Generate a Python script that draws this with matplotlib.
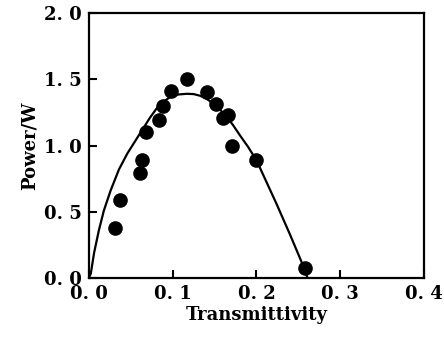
import matplotlib
matplotlib.use("Agg")
import matplotlib.pyplot as plt

# measured points
trans = [0.031, 0.037, 0.061, 0.064, 0.068, 0.084, 0.088, 0.098, 0.117,
         0.141, 0.152, 0.160, 0.166, 0.171, 0.199, 0.258]
power = [0.38, 0.59, 0.79, 0.89, 1.10, 1.19, 1.30, 1.41, 1.50,
         1.40, 1.31, 1.21, 1.23, 1.00, 0.89, 0.08]

# fitted curve
fit_t = [0.0, 0.0024, 0.0063, 0.012, 0.018, 0.026, 0.036, 0.046, 0.056,
         0.065, 0.073, 0.081, 0.089, 0.097, 0.107, 0.117, 0.125, 0.133,
         0.141, 0.148, 0.156, 0.164, 0.172, 0.180, 0.190, 0.200, 0.208,
         0.216, 0.224, 0.232, 0.240, 0.248, 0.254, 0.258, 0.261]
fit_p = [0.0, 0.035, 0.19, 0.36, 0.51, 0.66, 0.82, 0.94, 1.04,
         1.13, 1.21, 1.28, 1.33, 1.365, 1.385, 1.39, 1.388, 1.375,
         1.35, 1.32, 1.275, 1.22, 1.155, 1.08, 0.99, 0.89, 0.78,
         0.67, 0.56, 0.445, 0.33, 0.21, 0.12, 0.06, 0.0]

xticks = [0.0, 0.1, 0.2, 0.3, 0.4]
yticks = [0.0, 0.5, 1.0, 1.5, 2.0]
xlabels = ["0. 0", "0. 1", "0. 2", "0. 3", "0. 4"]
ylabels = ["0. 0", "0. 5", "1. 0", "1. 5", "2. 0"]

plt.rcParams['font.family'] = ['DejaVu Serif']

fig = plt.figure(figsize=(4.44, 3.40), dpi=100)
ax = fig.add_axes([0.2, 0.182, 0.755, 0.78])

ax.plot(fit_t, fit_p, color='black', linewidth=1.6)
ax.plot(trans, power, 'o', color='black', markersize=9.5)

ax.set_xlim(0, 0.4)
ax.set_ylim(0, 2.0)
ax.set_xticks(xticks)
ax.set_xticklabels(xlabels, fontsize=13, fontweight='bold')
ax.set_yticks(yticks)
ax.set_yticklabels(ylabels, fontsize=13, fontweight='bold')
ax.tick_params(direction='in', length=6, width=1.5, pad=5)
for s in ax.spines.values():
    s.set_linewidth(1.6)

ax.set_xlabel('Transmittivity', fontsize=13, fontweight='bold', labelpad=2)
ax.set_ylabel('Power/W', fontsize=13, fontweight='bold', labelpad=4)

fig.savefig('out.png', dpi=100)
